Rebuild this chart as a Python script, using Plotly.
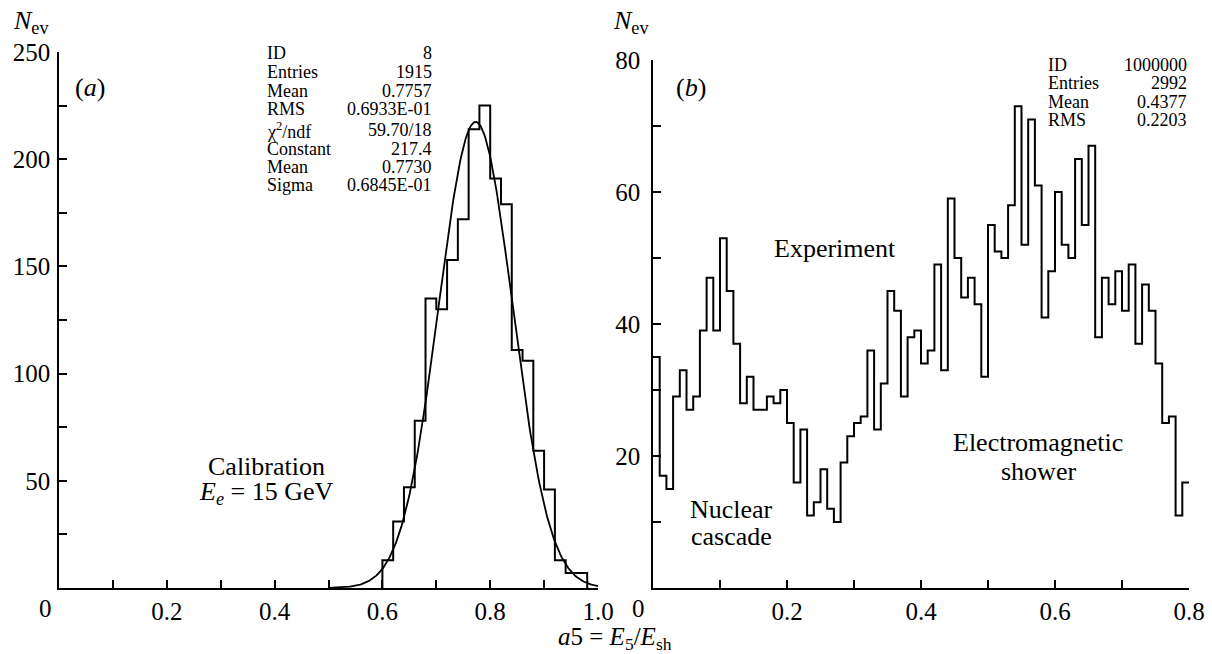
import numpy as np
import plotly.graph_objects as go

W, H = 1212, 654
FONT = "'Liberation Serif', 'Times New Roman', Times, serif"

# ---------------- data: panel (a) calibration ----------------
a_bin_start = 0.60
a_bin_width = 0.02
a_counts = [13, 31, 47, 78, 135, 130, 153, 172, 214, 225,
            191, 179, 111, 106, 64, 46, 13, 7, 7]
# Gaussian fit parameters (as printed in the stat box)
fit_constant = 217.4
fit_mean = 0.7730
fit_sigma = 0.06845
fit_range = (0.5, 1.0)

a_stats_labels = ["ID", "Entries", "Mean", "RMS"]
a_stats_values = ["8", "1915", "0.7757", "0.6933E-01"]
a_fit_labels = ["χ<sup>2</sup>/ndf", "Constant", "Mean", "Sigma"]
a_fit_values = ["59.70/18", "217.4", "0.7730", "0.6845E-01"]

# ---------------- data: panel (b) experiment ----------------
b_bin_start = 0.0
b_bin_width = 0.01
b_counts = [35, 17, 15, 29, 33, 27, 29, 39, 47, 39,
            53, 45, 37, 28, 32, 27, 27, 29, 28, 30,
            25, 16, 24, 11, 13, 18, 12, 10, 19, 23,
            25, 26, 36, 24, 31, 45, 42, 29, 38, 39,
            34, 36, 49, 33, 59, 50, 44, 47, 43, 32,
            55, 51, 50, 58, 73, 52, 71, 61, 41, 48,
            60, 52, 50, 65, 55, 67, 38, 47, 43, 48,
            42, 49, 37, 46, 42, 34, 25, 26, 11, 16]
b_stats_labels = ["ID", "Entries", "Mean", "RMS"]
b_stats_values = ["1000000", "2992", "0.4377", "0.2203"]

# tick definitions
a_xmajor = [0.2, 0.4, 0.6, 0.8, 1.0]
a_xlabels = ["0.2", "0.4", "0.6", "0.8", "1.0"]
a_xminor = [0.1, 0.3, 0.5, 0.7, 0.9]
a_ymajor = [50, 100, 150, 200, 250]
a_yminor = [25, 75, 125, 175, 225]
b_xmajor = [0.2, 0.4, 0.6, 0.8]
b_xlabels = ["0.2", "0.4", "0.6", "0.8"]
b_xminor = [0.1, 0.3, 0.5, 0.7]
b_ymajor = [20, 40, 60, 80]
b_yminor = [10, 30, 50, 70]


def px(x):
    return x / W


def py(y):
    return 1 - y / H


fig = go.Figure()

# panel (a) histogram (step outline, drops to zero at both ends)
a_edges = [a_bin_start + a_bin_width * i for i in range(len(a_counts) + 1)]
a_x = [a_edges[0]] + a_edges
a_y = [0] + a_counts + [0]
fig.add_trace(go.Scatter(x=a_x, y=a_y, mode="lines", line_shape="hv",
                         line=dict(color="black", width=2),
                         xaxis="x", yaxis="y", showlegend=False, hoverinfo="skip"))

# panel (a) gaussian fit curve
gx = np.linspace(fit_range[0], fit_range[1], 300)
gy = fit_constant * np.exp(-0.5 * ((gx - fit_mean) / fit_sigma) ** 2)
fig.add_trace(go.Scatter(x=gx, y=gy, mode="lines",
                         line=dict(color="black", width=1.8),
                         xaxis="x", yaxis="y", showlegend=False, hoverinfo="skip"))

# panel (b) histogram
b_edges = [b_bin_start + b_bin_width * i for i in range(len(b_counts) + 1)]
b_x = b_edges
b_y = b_counts + [b_counts[-1]]
fig.add_trace(go.Scatter(x=b_x, y=b_y, mode="lines", line_shape="hv",
                         line=dict(color="black", width=2),
                         xaxis="x2", yaxis="y2", showlegend=False, hoverinfo="skip"))


def axis_style(major, labels, minor):
    return dict(showline=True, linecolor="black", linewidth=1.5,
                ticks="inside", ticklen=8, tickwidth=1.5, tickcolor="black",
                showgrid=False, zeroline=False, automargin=False,
                tickfont=dict(family=FONT, size=25, color="black"),
                tickmode="array", tickvals=major, ticktext=labels, fixedrange=True,
                minor=dict(tickmode="array", tickvals=minor, ticks="inside",
                           ticklen=8, tickwidth=1.5, tickcolor="black", showgrid=False))


fig.update_layout(
    width=W, height=H,
    margin=dict(l=0, r=0, t=0, b=0),
    paper_bgcolor="white", plot_bgcolor="white",
    showlegend=False,
    font=dict(family=FONT, color="black"),
    xaxis=dict(domain=[px(59), px(598)], range=[0, 1.0], anchor="y",
               ticklabelstandoff=0, **axis_style(a_xmajor, a_xlabels, a_xminor)),
    yaxis=dict(domain=[py(588), py(52)], range=[0, 250], anchor="x",
               ticklabelstandoff=2, **axis_style(a_ymajor, [str(v) for v in a_ymajor], a_yminor)),
    xaxis2=dict(domain=[px(653), px(1189)], range=[0, 0.8], anchor="y2",
                ticklabelstandoff=0, **axis_style(b_xmajor, b_xlabels, b_xminor)),
    yaxis2=dict(domain=[py(588), py(60)], range=[0, 80], anchor="x2",
                ticklabelstandoff=6, **axis_style(b_ymajor, [str(v) for v in b_ymajor], b_yminor)),
)

annotations = []


def text(s, x, y, size=26, xanchor="center"):
    annotations.append(dict(text=s, x=px(x), y=py(y), xref="paper", yref="paper",
                            xanchor=xanchor, yanchor="middle", showarrow=False,
                            font=dict(family=FONT, size=size, color="black")))


# origin labels
text("0", 45, 608, size=25)
text("0", 638, 608, size=25)
# axis titles
text("<i>N</i><sub>ev</sub>", 11, 22, size=26, xanchor="left")
text("<i>N</i><sub>ev</sub>", 611, 22, size=26, xanchor="left")
text("<i>a</i>5 = <i>E</i><sub>5</sub>/<i>E</i><sub>sh</sub>", 615, 638, size=25)
# panel labels
text("(<i>a</i>)", 90, 88)
text("(<i>b</i>)", 691, 88)
# text in panels
text("Calibration", 266, 466)
text("<i>E</i><sub><i>e</i></sub> = 15 GeV", 266, 493)
text("Experiment", 835, 248)
text("Nuclear", 731, 509)
text("cascade", 731, 536)
text("Electromagnetic", 1038, 442)
text("shower", 1038, 471)

# stat boxes
a_rows = [53, 72, 91, 109]
a_fit_rows = [130, 149, 167, 185]
for lab, val, y in zip(a_stats_labels + a_fit_labels, a_stats_values + a_fit_values,
                       a_rows + a_fit_rows):
    text(lab, 265, y, size=18, xanchor="left")
    text(val, 434, y, size=18, xanchor="right")

b_rows = [65, 83, 102, 120]
for lab, val, y in zip(b_stats_labels, b_stats_values, b_rows):
    text(lab, 1046, y, size=18, xanchor="left")
    text(val, 1189, y, size=18, xanchor="right")

fig.update_layout(annotations=annotations)
fig.write_html("out.html")
